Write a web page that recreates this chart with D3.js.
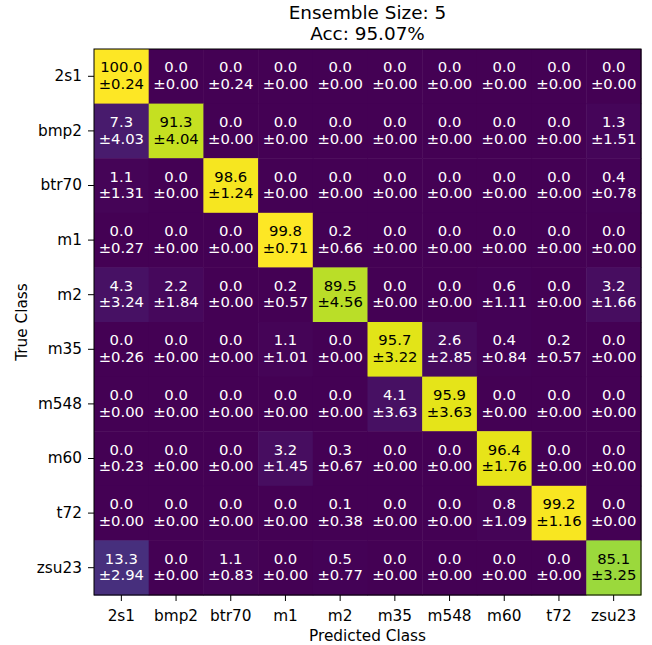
<!DOCTYPE html>
<html>
<head>
<meta charset="utf-8">
<script src="https://cdn.jsdelivr.net/npm/d3@7.9.0/dist/d3.min.js"></script>
<style>
  body { margin: 0; background: #fff; }
  svg { display: block; font-family: "DejaVu Sans", sans-serif; }
</style>
</head>
<body>
<svg id="chart" width="652" height="645"></svg>
<script>
// class names (rows = true, cols = predicted)
const classes = ["2s1", "bmp2", "btr70", "m1", "m2", "m35", "m548", "m60", "t72", "zsu23"];

// mean percentage per cell, one array per true class
const means = [
  [100.0, 0.0, 0.0, 0.0, 0.0, 0.0, 0.0, 0.0, 0.0, 0.0],
  [7.3, 91.3, 0.0, 0.0, 0.0, 0.0, 0.0, 0.0, 0.0, 1.3],
  [1.1, 0.0, 98.6, 0.0, 0.0, 0.0, 0.0, 0.0, 0.0, 0.4],
  [0.0, 0.0, 0.0, 99.8, 0.2, 0.0, 0.0, 0.0, 0.0, 0.0],
  [4.3, 2.2, 0.0, 0.2, 89.5, 0.0, 0.0, 0.6, 0.0, 3.2],
  [0.0, 0.0, 0.0, 1.1, 0.0, 95.7, 2.6, 0.4, 0.2, 0.0],
  [0.0, 0.0, 0.0, 0.0, 0.0, 4.1, 95.9, 0.0, 0.0, 0.0],
  [0.0, 0.0, 0.0, 3.2, 0.3, 0.0, 0.0, 96.4, 0.0, 0.0],
  [0.0, 0.0, 0.0, 0.0, 0.1, 0.0, 0.0, 0.8, 99.2, 0.0],
  [13.3, 0.0, 1.1, 0.0, 0.5, 0.0, 0.0, 0.0, 0.0, 85.1]
];

// standard deviation per cell
const stds = [
  [0.24, 0.00, 0.24, 0.00, 0.00, 0.00, 0.00, 0.00, 0.00, 0.00],
  [4.03, 4.04, 0.00, 0.00, 0.00, 0.00, 0.00, 0.00, 0.00, 1.51],
  [1.31, 0.00, 1.24, 0.00, 0.00, 0.00, 0.00, 0.00, 0.00, 0.78],
  [0.27, 0.00, 0.00, 0.71, 0.66, 0.00, 0.00, 0.00, 0.00, 0.00],
  [3.24, 1.84, 0.00, 0.57, 4.56, 0.00, 0.00, 1.11, 0.00, 1.66],
  [0.26, 0.00, 0.00, 1.01, 0.00, 3.22, 2.85, 0.84, 0.57, 0.00],
  [0.00, 0.00, 0.00, 0.00, 0.00, 3.63, 3.63, 0.00, 0.00, 0.00],
  [0.23, 0.00, 0.00, 1.45, 0.67, 0.00, 0.00, 1.76, 0.00, 0.00],
  [0.00, 0.00, 0.00, 0.00, 0.38, 0.00, 0.00, 1.09, 1.16, 0.00],
  [2.94, 0.00, 0.83, 0.00, 0.77, 0.00, 0.00, 0.00, 0.00, 3.25]
];

const titleLines = ["Ensemble Size: 5", "Acc: 95.07%"];

const svg = d3.select("#chart");
const plotLeft = 94, plotRight = 641, plotTop = 49, plotBottom = 595;
const fs = 15.3;      // tick + axis labels
const cellFs = 14.8;  // numbers in cells

let x = d3.scaleBand().domain(classes).range([plotLeft, plotRight]);
let y = d3.scaleBand().domain(classes).range([plotTop, plotBottom]);
let color = d3.scaleSequential(d3.interpolateViridis).domain([0, 100]);

// flatten into cells
let cells = [];
means.forEach((row, i) => {
  row.forEach((v, j) => {
    cells.push({ t: classes[i], p: classes[j], v: v, s: stds[i][j] });
  });
});

svg.append("g")
  .selectAll("rect")
  .data(cells)
  .join("rect")
  .attr("x", (d) => x(d.p))
  .attr("y", (d) => y(d.t))
  .attr("width", x.bandwidth() + 0.5)
  .attr("height", y.bandwidth() + 0.5)
  .attr("fill", (d) => color(d.v));

// cell labels: mean on top, ±std below
let labels = svg.append("g")
  .attr("font-size", cellFs + "px")
  .attr("text-anchor", "middle")
  .selectAll("text")
  .data(cells)
  .join("text")
  .attr("x", (d) => x(d.p) + x.bandwidth() / 2)
  .attr("y", (d) => y(d.t) + y.bandwidth() / 2)
  .attr("fill", (d) => (d.v > 50 ? "#000" : "#fff"));

labels.append("tspan")
  .attr("x", (d) => x(d.p) + x.bandwidth() / 2)
  .attr("dy", "-4")
  .text((d) => d.v.toFixed(1));
labels.append("tspan")
  .attr("x", (d) => x(d.p) + x.bandwidth() / 2)
  .attr("dy", "16.6")
  .text((d) => "±" + d.s.toFixed(2));

// frame
svg.append("rect")
  .attr("x", plotLeft).attr("y", plotTop)
  .attr("width", plotRight - plotLeft).attr("height", plotBottom - plotTop)
  .attr("fill", "none").attr("stroke", "#000").attr("stroke-width", 1);

// axes
let xAxis = svg.append("g")
  .attr("transform", `translate(0,${plotBottom})`)
  .call(d3.axisBottom(x).tickSize(6).tickSizeOuter(0).tickPadding(9));
let yAxis = svg.append("g")
  .attr("transform", `translate(${plotLeft},0)`)
  .call(d3.axisLeft(y).tickSize(6).tickSizeOuter(0).tickPadding(6));

[xAxis, yAxis].forEach((a) => {
  a.select(".domain").remove();
  a.selectAll("text").attr("font-size", fs + "px").attr("font-family", "DejaVu Sans").attr("fill", "#000");
  a.selectAll("line").attr("stroke", "#000");
});

// title
svg.append("g")
  .attr("font-size", "18.4px")
  .attr("text-anchor", "middle")
  .selectAll("text")
  .data(titleLines)
  .join("text")
  .attr("x", (plotLeft + plotRight) / 2)
  .attr("y", (d, i) => 19 + i * 21)
  .text((d) => d);

// axis titles
svg.append("text")
  .attr("x", (plotLeft + plotRight) / 2)
  .attr("y", 641)
  .attr("text-anchor", "middle")
  .attr("font-size", fs + "px")
  .text("Predicted Class");

svg.append("text")
  .attr("transform", `translate(26.5,${(plotTop + plotBottom) / 2}) rotate(-90)`)
  .attr("text-anchor", "middle")
  .attr("font-size", fs + "px")
  .text("True Class");
</script>
</body>
</html>
